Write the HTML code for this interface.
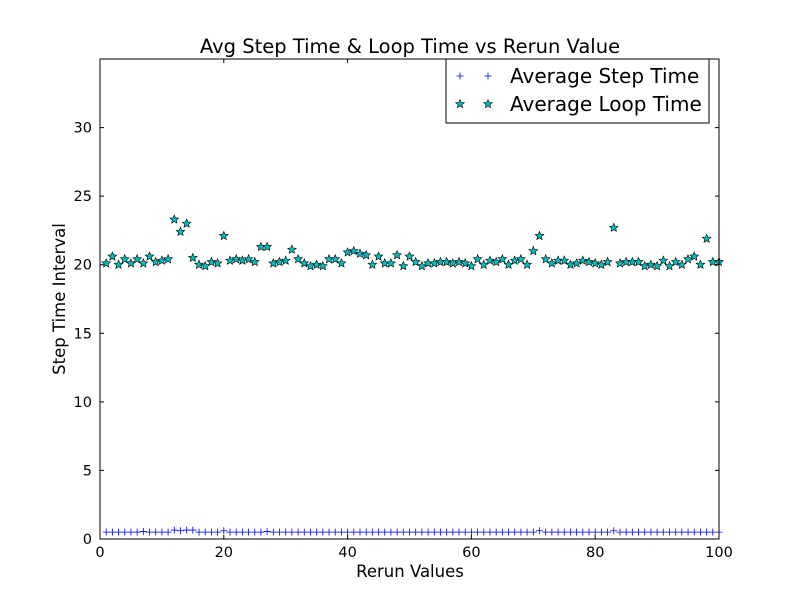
<!DOCTYPE html>
<html><head><meta charset="utf-8"><style>body{margin:0;background:#fff}svg{display:block}text{font-family:"DejaVu Sans","Liberation Sans",sans-serif}</style></head>
<body>
<svg id="chart" width="800" height="600" xmlns="http://www.w3.org/2000/svg">
<rect width="800" height="600" fill="#fff"/>
<g id="plot"></g>
</svg>
<script>
const loopTimes=[20.1,20.6,20.0,20.4,20.1,20.4,20.1,20.6,20.2,20.3,20.4,23.3,22.4,23.0,20.5,20.0,19.9,20.2,20.1,22.1,20.3,20.4,20.3,20.4,20.2,21.3,21.3,20.1,20.2,20.3,21.1,20.4,20.1,19.9,20.0,19.9,20.4,20.4,20.1,20.9,21.0,20.8,20.7,20.0,20.6,20.1,20.1,20.7,19.9,20.6,20.2,19.9,20.1,20.1,20.2,20.2,20.1,20.2,20.1,19.9,20.4,20.0,20.3,20.2,20.4,20.0,20.3,20.4,20.0,21.0,22.1,20.4,20.1,20.3,20.3,20.0,20.1,20.3,20.2,20.1,20.0,20.2,22.7,20.1,20.2,20.2,20.2,19.9,20.0,19.9,20.3,19.9,20.2,20.0,20.4,20.6,20.0,21.9,20.2,20.2];
const stepTimes=[0.5,0.5,0.5,0.5,0.5,0.5,0.55,0.5,0.5,0.5,0.5,0.65,0.6,0.65,0.65,0.5,0.5,0.5,0.5,0.6,0.5,0.5,0.5,0.5,0.5,0.5,0.55,0.5,0.5,0.5,0.5,0.5,0.5,0.5,0.5,0.5,0.5,0.5,0.5,0.5,0.5,0.5,0.5,0.5,0.5,0.5,0.5,0.5,0.5,0.5,0.5,0.5,0.5,0.5,0.5,0.5,0.5,0.5,0.5,0.5,0.5,0.5,0.5,0.5,0.5,0.5,0.5,0.5,0.5,0.5,0.6,0.5,0.5,0.5,0.5,0.5,0.5,0.5,0.5,0.5,0.5,0.5,0.6,0.5,0.5,0.5,0.5,0.5,0.5,0.5,0.5,0.5,0.5,0.5,0.5,0.5,0.5,0.5,0.5,0.5];
const xTicks=[0,20,40,60,80,100];
const yTicks=[0,5,10,15,20,25,30];
const L=100,R=719,T=59,B=539,XMAX=100,YMAX=35;
const sx=v=>L+(R-L)*v/XMAX, sy=v=>B-(B-T)*v/YMAX;
const NS='http://www.w3.org/2000/svg', g=document.getElementById('plot');
function mk(t,a,txt){const e=document.createElementNS(NS,t);for(const k in a)e.setAttribute(k,a[k]);if(txt!=null)e.textContent=txt;g.appendChild(e);return e;}
function star(cx,cy,r){let p=[];for(let i=0;i<10;i++){const rr=i%2?r*0.45:r,a=-Math.PI/2+i*Math.PI/5;p.push((cx+rr*Math.cos(a)).toFixed(1)+','+(cy+rr*Math.sin(a)).toFixed(1));}return p.join(' ');}
stepTimes.forEach((v,i)=>{const x=sx(i+1),y=sy(v);
const e=mk('path',{d:`M${x-3.5},${y}H${x+3.5}M${x},${y-3.5}V${y+3.5}`,stroke:'#0000ff','stroke-width':0.8,fill:'none'});

});
loopTimes.forEach((v,i)=>{
const e=mk('polygon',{points:star(sx(i+1),sy(v),4.5),fill:'#00bfbf',stroke:'#000','stroke-width':0.6});

});
const fr=mk('rect',{x:L,y:T,width:R-L,height:B-T,fill:'none',stroke:'#000','stroke-width':1});

xTicks.forEach(v=>{const x=sx(v);mk('path',{d:`M${x},${B}v-4M${x},${T}v4`,stroke:'#000'});
const t=mk('text',{x:x,y:B+18,'text-anchor':'middle','font-size':14.5},v);
});
yTicks.forEach(v=>{const y=sy(v);mk('path',{d:`M${L},${y}h4M${R},${y}h-4`,stroke:'#000'});
const t=mk('text',{x:L-8,y:y+5,'text-anchor':'end','font-size':14.5},v);
});
let t=mk('text',{x:410,y:53,'text-anchor':'middle','font-size':19.5},'Avg Step Time & Loop Time vs Rerun Value');

t=mk('text',{x:410,y:577,'text-anchor':'middle','font-size':16.5},'Rerun Values');

t=mk('text',{x:65,y:299,'text-anchor':'middle','font-size':16.5,transform:'rotate(-90 65 299)'},'Step Time Interval');

const lg=mk('rect',{x:446,y:59,width:263,height:64,fill:'#fff',stroke:'#000'});

[460,488].forEach(x=>mk('path',{d:`M${x-3.5},76H${x+3.5}M${x},72.5V79.5`,stroke:'#0000ff','stroke-width':0.8}));
[460,488].forEach(x=>mk('polygon',{points:star(x,104,4.5),fill:'#00bfbf',stroke:'#000','stroke-width':0.6}));
t=mk('text',{x:510,y:83,'font-size':20},'Average Step Time');

t=mk('text',{x:510,y:111,'font-size':20},'Average Loop Time');

</script>
</body></html>
